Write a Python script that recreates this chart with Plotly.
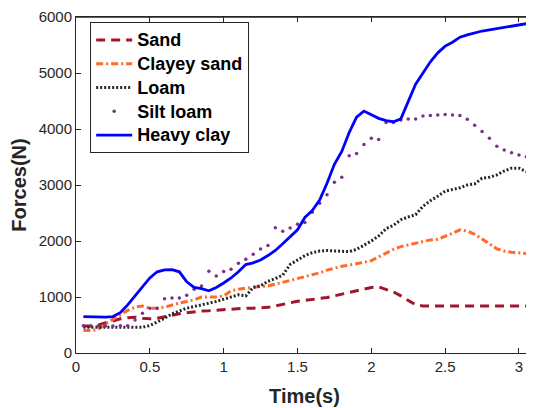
import plotly.graph_objects as go

time_s = [0.05, 0.10, 0.15, 0.20, 0.25, 0.30, 0.35, 0.40, 0.45, 0.50,
          0.55, 0.60, 0.65, 0.70, 0.75, 0.80, 0.85, 0.90, 0.95, 1.00,
          1.05, 1.10, 1.15, 1.20, 1.25, 1.30, 1.35, 1.40, 1.45, 1.50,
          1.55, 1.60, 1.65, 1.70, 1.75, 1.80, 1.85, 1.90, 1.95, 2.00,
          2.05, 2.10, 2.15, 2.20, 2.25, 2.30, 2.35, 2.40, 2.45, 2.50,
          2.55, 2.60, 2.65, 2.70, 2.75, 2.80, 2.85, 2.90, 2.95, 3.00, 3.05]

sand = [480, 480, 500, 540, 580, 610, 630, 640, 620, 610,
        620, 650, 680, 700, 720, 740, 750, 755, 765, 780,
        790, 795, 800, 800, 805, 815, 840, 870, 900, 925,
        940, 955, 965, 990, 1020, 1050, 1080, 1120, 1150, 1170,
        1180, 1140, 1090, 1020, 940, 860, 840, 840, 840, 840,
        840, 840, 840, 840, 840, 840, 840, 840, 840, 840, 840]

clayey_sand = [400, 400, 420, 520, 600, 680, 760, 820, 840, 800,
               800, 820, 860, 890, 920, 950, 1000, 1000, 1000, 1020,
               1110, 1140, 1160, 1175, 1190, 1195, 1230, 1260, 1290, 1330,
               1370, 1400, 1432, 1480, 1520, 1550, 1570, 1590, 1620, 1650,
               1720, 1776, 1850, 1900, 1930, 1970, 2000, 2020, 2030, 2080,
               2140, 2200, 2180, 2120, 2040, 1950, 1860, 1820, 1800, 1790, 1776]

loam = [460, 460, 460, 460, 460, 460, 460, 460, 460, 490,
        550, 620, 700, 750, 800, 830, 860, 880, 920, 960,
        1000, 1040, 1020, 1170, 1200, 1280, 1330, 1390, 1580, 1660,
        1740, 1790, 1820, 1830, 1820, 1810, 1810, 1850, 1920, 2000,
        2090, 2220, 2280, 2380, 2430, 2470, 2620, 2720, 2800, 2890,
        2920, 2950, 3000, 3020, 3120, 3140, 3180, 3250, 3300, 3300, 3240]

silt_loam = [485, 480, 480, 480, 480, 485, 485, 590, 710, 800,
             797, 970, 982, 982, 1030, 1137, 1195, 1462, 1373, 1456,
             1497, 1604, 1675, 1764, 1858, 1918, 2238, 2175, 2231, 2297,
             2332, 2515, 2675, 2824, 3048, 3137, 3522, 3563, 3723, 3836,
             3812, 4114, 4114, 4162, 4180, 4180, 4233, 4239, 4251, 4257,
             4251, 4239, 4174, 4067, 3954, 3836, 3694, 3623, 3575, 3534, 3504]

heavy_clay = [650, 645, 640, 640, 650, 720, 860, 1010, 1180, 1340,
              1450, 1485, 1490, 1450, 1270, 1170, 1150, 1110, 1170, 1250,
              1340, 1450, 1580, 1610, 1660, 1740, 1830, 1950, 2080, 2200,
              2420, 2545, 2730, 3030, 3370, 3600, 3936, 4210, 4320, 4260,
              4190, 4150, 4130, 4180, 4500, 4800, 5000, 5200, 5360, 5480,
              5550, 5640, 5680, 5720, 5750, 5770, 5790, 5810, 5830, 5860, 5880]

series_names = ["Sand", "Clayey sand", "Loam", "Silt loam", "Heavy clay"]

x_ticks = [0, 0.5, 1, 1.5, 2, 2.5, 3]
x_tick_labels = ["0", "0.5", "1", "1.5", "2", "2.5", "3"]
y_ticks = [0, 1000, 2000, 3000, 4000, 5000, 6000]
y_tick_labels = ["0", "1000", "2000", "3000", "4000", "5000", "6000"]


def legend_label(text):
    return "<span style='font-size:18px'>" + text + "</span>"


fig = go.Figure()
fig.add_trace(go.Scatter(x=time_s, y=sand, name=legend_label(series_names[0]), mode="lines",
                         line=dict(color="#A2142F", width=3, dash="9px,6px")))
fig.add_trace(go.Scatter(x=time_s, y=clayey_sand, name=legend_label(series_names[1]), mode="lines",
                         line=dict(color="#FF6929", width=3, dash="7px,3px,2px,3px")))
fig.add_trace(go.Scatter(x=time_s, y=loam, name=legend_label(series_names[2]), mode="lines",
                         line=dict(color="#262626", width=3, dash="2px,2px")))
fig.add_trace(go.Scatter(x=time_s, y=silt_loam, name=legend_label(series_names[3]), mode="markers",
                         marker=dict(color="#7E2F8E", size=3.5, symbol="circle")))
fig.add_trace(go.Scatter(x=time_s, y=heavy_clay, name=legend_label(series_names[4]), mode="lines",
                         line=dict(color="#0000FF", width=2.8)))

axis_common = dict(
    showline=True, linecolor="#262626", linewidth=1, mirror="ticks",
    ticks="inside", ticklen=5, tickcolor="#262626", tickwidth=1,
    showgrid=False, zeroline=False, ticklabeloverflow="allow",
    tickfont=dict(family="Liberation Sans, Arial", size=15, color="#262626"),
)

fig.update_layout(
    width=526, height=400,
    margin=dict(l=68, r=0, t=7, b=55),
    paper_bgcolor="white", plot_bgcolor="white",
    xaxis=dict(range=[0, 3.095], tickvals=x_ticks, ticktext=x_tick_labels,
               title=dict(text="<b>Time(s)</b>", standoff=14,
                          font=dict(family="Liberation Sans, Arial", size=20, color="#262626")),
               **axis_common),
    yaxis=dict(range=[0, 6000], tickvals=y_ticks, ticktext=y_tick_labels,
               title=dict(text="<b>Forces(N)</b>", standoff=8,
                          font=dict(family="Liberation Sans, Arial", size=20, color="#262626")),
               **axis_common),
    legend=dict(x=0.031, y=0.985, xanchor="left", yanchor="top",
                bgcolor="white", bordercolor="#262626", borderwidth=1,
                font=dict(family="Liberation Sans, Arial", size=16, color="black", weight="bold"),
                itemwidth=36, tracegroupgap=0),
    shapes=[dict(type="line", xref="paper", yref="paper", x0=0, x1=1, y0=1, y1=1,
                 line=dict(color="#262626", width=1.5), layer="above")],
    showlegend=True,
)

fig.write_html("out.html")
